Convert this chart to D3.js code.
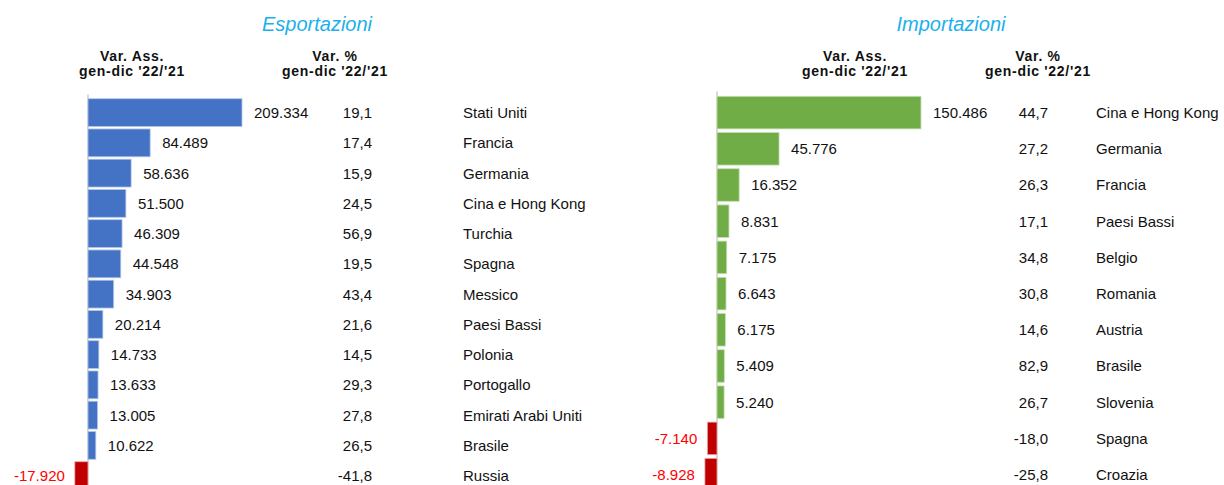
<!DOCTYPE html>
<html>
<head>
<meta charset="utf-8">
<script src="https://cdn.jsdelivr.net/npm/d3@7"></script>
<style>
  body { margin: 0; background: #fff; }
  svg { font-family: "Liberation Sans", Arial, sans-serif; }
</style>
</head>
<body>
<div id="chart"></div>
<script>
/* DATA */
const expCountries = ["Stati Uniti", "Francia", "Germania", "Cina e Hong Kong", "Turchia", "Spagna", "Messico",
  "Paesi Bassi", "Polonia", "Portogallo", "Emirati Arabi Uniti", "Brasile", "Russia"];
const expAbs = [209334, 84489, 58636, 51500, 46309, 44548, 34903, 20214, 14733, 13633, 13005, 10622, -17920];
const expPct = [19.1, 17.4, 15.9, 24.5, 56.9, 19.5, 43.4, 21.6, 14.5, 29.3, 27.8, 26.5, -41.8];

const impCountries = ["Cina e Hong Kong", "Germania", "Francia", "Paesi Bassi", "Belgio", "Romania", "Austria",
  "Brasile", "Slovenia", "Spagna", "Croazia"];
const impAbs = [150486, 45776, 16352, 8831, 7175, 6643, 6175, 5409, 5240, -7140, -8928];
const impPct = [44.7, 27.2, 26.3, 17.1, 34.8, 30.8, 14.6, 82.9, 26.7, -18.0, -25.8];

const titles = ["Esportazioni", "Importazioni"];
const headAbs = ["Var. Ass.", "gen-dic '22/'21"];
const headPct = ["Var. %", "gen-dic '22/'21"];

/* CONSTANTS */
const width = 1224, height = 485;
const itLocale = d3.formatLocale({ decimal: ",", thousands: ".", grouping: [3], currency: ["€", ""], minus: "-" });
const fmtAbs = itLocale.format(",");
const fmtPct = itLocale.format(".1f");

const svg = d3.select("#chart").append("svg")
  .attr("width", width)
  .attr("height", height);

function panel(cfg) {
  const g = svg.append("g");
  const rows = cfg.countries.map((c, i) => ({ c, abs: cfg.abs[i], pct: cfg.pct[i] }));

  const x = d3.scaleLinear().domain([0, d3.max(cfg.abs)]).range([cfg.x0, cfg.x1]);
  const y = d3.scaleBand().domain(cfg.countries).range([cfg.y0, cfg.y1]).paddingInner(cfg.pad).paddingOuter(cfg.pad / 2);

  // titles
  g.append("text")
    .attr("x", cfg.titleX).attr("y", 31)
    .attr("text-anchor", "middle")
    .attr("font-size", 20).attr("font-style", "italic")
    .attr("fill", "#1CB0EC")
    .text(cfg.title);

  [[cfg.headAbsX, headAbs], [cfg.headPctX, headPct]].forEach(([hx, lines]) => {
    lines.forEach((t, i) => {
      g.append("text")
        .attr("x", hx).attr("y", 61 + i * 15)
        .attr("text-anchor", "middle")
        .attr("font-size", 14).attr("font-weight", "bold")
        .attr("letter-spacing", 0.7)
        .attr("fill", "#111")
        .text(t);
    });
  });

  // zero line
  g.append("line")
    .attr("x1", x(0)).attr("x2", x(0))
    .attr("y1", cfg.y0 - 3).attr("y2", cfg.y1)
    .attr("stroke", "#D9D9D9").attr("stroke-width", 2);

  // bars
  g.selectAll("rect.bar")
    .data(rows)
    .join("rect")
    .attr("class", "bar")
    .attr("x", d => Math.min(x(0), x(d.abs)))
    .attr("width", d => Math.abs(x(d.abs) - x(0)))
    .attr("y", d => y(d.c))
    .attr("height", y.bandwidth())
    .attr("fill", d => d.abs < 0 ? "#C00000" : cfg.color)
    .attr("stroke", d => d.abs < 0 ? "#E8B0B0" : cfg.stroke)
    .attr("stroke-width", 0.8);

  const cy = d => y(d.c) + y.bandwidth() / 2;

  // absolute value labels
  g.selectAll("text.abs")
    .data(rows)
    .join("text")
    .attr("class", "abs")
    .attr("x", d => d.abs < 0 ? x(d.abs) - 10 : x(d.abs) + 12)
    .attr("y", cy)
    .attr("dy", "0.36em")
    .attr("text-anchor", d => d.abs < 0 ? "end" : "start")
    .attr("font-size", 15)
    .attr("fill", d => d.abs < 0 ? "#FF0000" : "#111")
    .text(d => fmtAbs(d.abs));

  // pct labels
  g.selectAll("text.pct")
    .data(rows)
    .join("text")
    .attr("class", "pct")
    .attr("x", cfg.pctX)
    .attr("y", cy)
    .attr("dy", "0.36em")
    .attr("text-anchor", "end")
    .attr("font-size", 15)
    .attr("fill", "#111")
    .text(d => fmtPct(d.pct));

  // country names
  g.selectAll("text.name")
    .data(rows)
    .join("text")
    .attr("class", "name")
    .attr("x", cfg.nameX)
    .attr("y", cy)
    .attr("dy", "0.36em")
    .attr("font-size", 15)
    .attr("fill", "#111")
    .text(d => d.c);
}

panel({
  title: titles[0], countries: expCountries, abs: expAbs, pct: expPct,
  x0: 88, x1: 242, y0: 97.5, y1: 97.5 + 13 * 30.25, pad: 0.08,
  color: "#4472C4", stroke: "#B4C7E7",
  titleX: 317, headAbsX: 132, headPctX: 335, pctX: 372, nameX: 463
});

panel({
  title: titles[1], countries: impCountries, abs: impAbs, pct: impPct,
  x0: 717, x1: 921, y0: 94.5, y1: 94.5 + 11 * 36.2, pad: 0.1,
  color: "#70AD47", stroke: "#C5E0B4",
  titleX: 951, headAbsX: 855, headPctX: 1038, pctX: 1048, nameX: 1096
});
</script>
</body>
</html>
